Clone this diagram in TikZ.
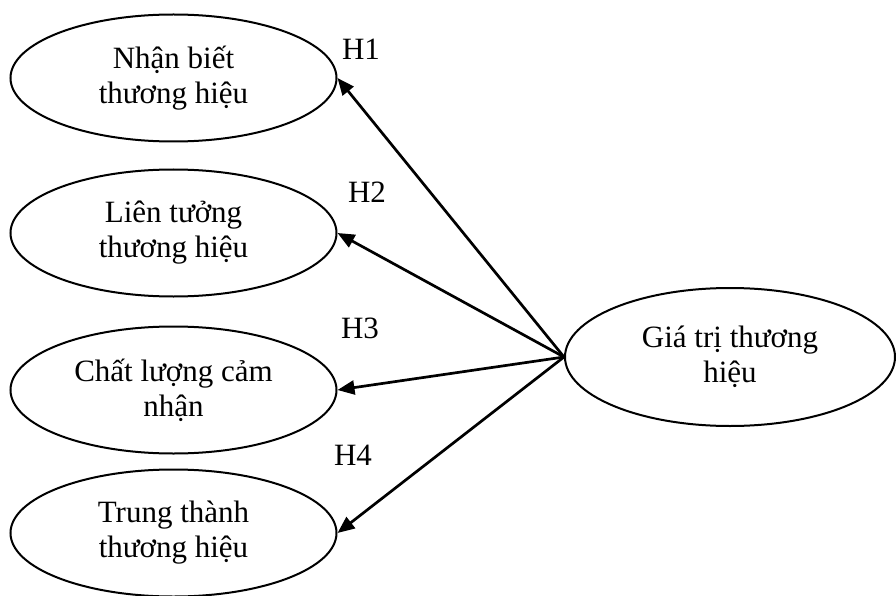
\documentclass[tikz,border=0pt]{standalone}
\usepackage{fontspec}
\setmainfont{Liberation Serif}
\usetikzlibrary{shapes.geometric,arrows.meta}
\begin{document}
\begin{tikzpicture}[x=1pt,y=-1pt,
  ell/.style={draw,ellipse,line width=2pt,inner sep=0pt,minimum width=326pt,minimum height=127pt,align=center,font=\fontsize{31}{35}\selectfont},
  conn/.style={line width=2.7pt,-{Triangle[length=17pt,width=14pt]}},
  hlab/.style={anchor=base,inner sep=0pt,font=\fontsize{31}{35}\selectfont}]
\useasboundingbox (0,0) rectangle (896,596);
\node[ell] (e1) at (173.5,78) {Nhận biết\\thương hiệu};
\node[ell] (e2) at (173.5,233) {Liên tưởng\\thương hiệu};
\node[ell] (e3) at (173.5,390) {Chất lượng cảm\\nhận};
\node[ell] (e4) at (173.5,533) {Trung thành\\thương hiệu};
\node[ell,minimum width=330pt,minimum height=138pt] (r) at (730,357) {Giá trị thương\\hiệu};
\draw[conn] (r.west) -- (e1.east);
\draw[conn] (r.west) -- (e2.east);
\draw[conn] (r.west) -- (e3.east);
\draw[conn] (r.west) -- (e4.east);
\node[hlab] (h1) at (361,60) {H1};
\node[hlab] (h2) at (367,202) {H2};
\node[hlab] (h3) at (360,338) {H3};
\node[hlab] (h4) at (353,465) {H4};
\end{tikzpicture}
\end{document}
